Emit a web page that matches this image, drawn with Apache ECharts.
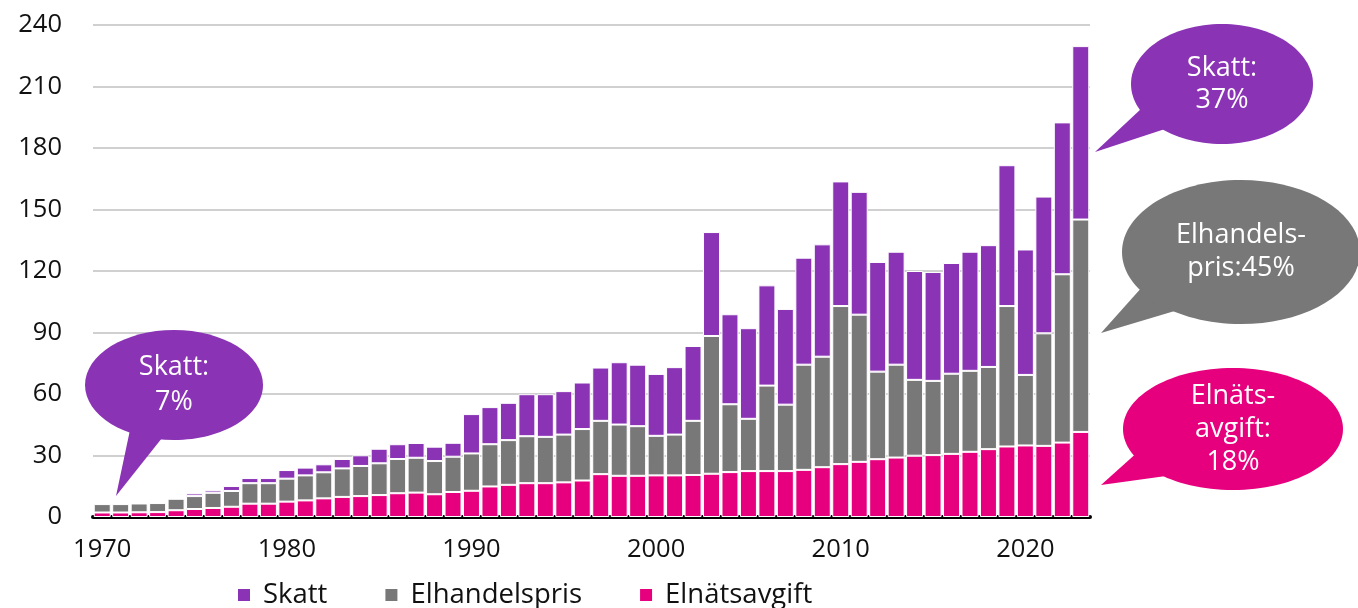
<!DOCTYPE html>
<html>
<head>
<meta charset="utf-8">
<script src="https://cdn.jsdelivr.net/npm/echarts@6/dist/echarts.min.js"></script>
<style>
html,body{margin:0;padding:0;background:#fff;}
#c{width:1358px;height:608px;}
</style>
</head>
<body>
<div id="c"></div>
<script>
const years = [];
for (let y = 1970; y <= 2023; y++) years.push(String(y));

const elnatsavgift = [2.2,2.2,2.3,2.4,3.3,3.9,4.4,5.0,6.5,6.5,
  7.5,8.1,9.1,9.8,10.2,10.7,11.6,11.9,11.1,12.2,
  12.8,14.9,15.7,16.5,16.5,16.9,17.8,20.9,20.1,20.1,
  20.3,20.3,20.5,21.1,21.9,22.4,22.4,22.4,23.0,24.3,
  25.8,26.9,28.2,29.0,29.9,30.2,30.8,31.8,33.1,34.4,
  34.9,34.7,36.3,41.5];
const elhandelspris = [4.1,4.1,4.3,4.4,5.6,6.3,7.4,7.7,10.0,10.0,
  11.2,12.2,12.7,13.9,14.7,15.5,16.7,17.0,16.2,17.2,
  18.2,20.6,21.8,22.9,22.6,23.3,25.1,26.0,25.0,24.2,
  19.3,19.9,26.4,67.2,33.1,25.5,41.7,32.4,51.3,53.9,
  77.1,71.8,42.7,45.3,37.0,36.2,39.1,39.5,40.1,68.5,
  34.4,54.9,82.1,103.6];
const skatt = [0.5,0.5,0.5,0.5,0.2,1.3,1.2,2.4,2.5,2.5,
  4.2,3.8,3.9,4.6,5.2,7.1,7.2,7.2,7.0,6.8,
  19.2,18.1,18.2,20.5,20.8,21.2,22.7,26.0,30.4,30.0,
  30.2,32.9,36.5,50.7,43.9,44.2,48.9,46.7,52.2,54.8,
  60.8,59.9,53.5,55.1,53.1,53.1,54.0,58.1,59.4,68.7,
  61.2,66.7,74.1,84.6];
const yTicks = [0,30,60,90,120,150,180,210,240];

const C_SKATT = '#8A33B5';
const C_HANDEL = '#787878';
const C_NAT = '#E6007E';
const FONT = '"Open Sans", "Noto Sans", sans-serif';

const chart = echarts.init(document.getElementById('c'), null, {renderer:'canvas'});

function barSeries(name, data, color){
  return {
    name, type:'bar', stack:'total', data,
    barCategoryGap:'8%',
    itemStyle:{color, borderColor:'#ffffff', borderWidth:1},
    emphasis:{disabled:true}
  };
}

function bubble(cx, cy, rx, ry, tail, color, lines, lh){
  const els = [
    {type:'polygon', shape:{points:tail}, style:{fill:color}, z:100},
    {type:'ellipse', shape:{cx, cy, rx, ry}, style:{fill:color}, z:100}
  ];
  const n = lines.length;
  lines.forEach((t,i)=>{
    els.push({type:'text', z:101, style:{
      text:t, x:cx, y:cy + (i-(n-1)/2)*lh,
      fill:'#ffffff', font:'27px ' + FONT, align:'center', verticalAlign:'middle'
    }});
  });
  return els;
}

const graphics = [].concat(
  bubble(174, 385, 89, 55, [[130,430],[162,438],[116,496]], C_SKATT, ['Skatt:','7%'], 35),
  bubble(1222, 84, 91, 60, [[1142,108],[1168,128],[1095,152]], C_SKATT, ['Skatt:','37%'], 32),
  bubble(1241, 252, 119, 72, [[1143,286],[1178,310],[1101,333]], C_HANDEL, ['Elhandels-','pris:45%'], 33),
  bubble(1233, 429, 110, 61, [[1140,450],[1166,476],[1101,485]], C_NAT, ['Elnäts-','avgift:','18%'], 33)
);

chart.setOption({
  animation:false,
  textStyle:{fontFamily:FONT},
  grid:{left:93, right:268, top:25, bottom:91, containLabel:false},
  legend:{
    data:['Skatt','Elhandelspris','Elnätsavgift'],
    left:236, top:581, padding:0,
    itemWidth:14, itemHeight:14, itemGap:56,
    icon:'rect',
    textStyle:{fontSize:27.5, color:'#111', fontFamily:FONT, padding:[0,0,0,7]}
  },
  xAxis:{
    type:'category', data:years,
    axisLine:{show:true, lineStyle:{color:'#000', width:4}},
    axisTick:{show:false},
    axisLabel:{interval:9, fontSize:25.5, color:'#111', margin:20, fontFamily:FONT}
  },
  yAxis:{
    type:'value', min:0, max:240, interval:30,
    axisLine:{show:false}, axisTick:{show:false},
    splitLine:{lineStyle:{color:'#d0d0d0', width:2}},
    axisLabel:{fontSize:25.5, color:'#111', margin:31, fontFamily:FONT,
      formatter:(v)=> yTicks.includes(v) ? String(v) : ''}
  },
  series:[
    barSeries('Elnätsavgift', elnatsavgift, C_NAT),
    barSeries('Elhandelspris', elhandelspris, C_HANDEL),
    barSeries('Skatt', skatt, C_SKATT)
  ],
  graphic:graphics
});
</script>
</body>
</html>
